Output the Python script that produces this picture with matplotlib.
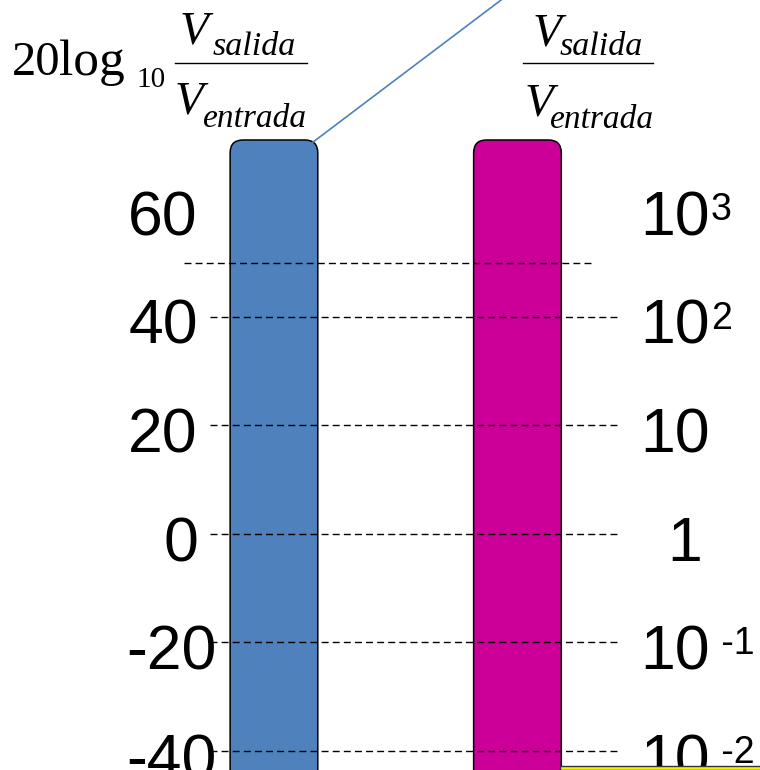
import matplotlib.pyplot as plt
from matplotlib.patches import FancyBboxPatch, Rectangle
from matplotlib.lines import Line2D

# escala en dB (izquierda) y relacion de tensiones (derecha)
niveles_db = [60, 40, 20, 0, -20, -40]
etiquetas_db = ['60', '40', '20', '0', '-20', '-40']
lineas_db = [50, 40, 20, 0, -20, -40]
base_rel = ['10', '10', '10', '1', '10', '10']
exp_rel = ['3', '2', '', '', ' -1', ' -2']

barras_x = [0, 1]
colores = ['#4F81BD', '#CC0099']
tope_barra = 72.6

W, H = 760, 770
fig = plt.figure(figsize=(W / 100, H / 100), dpi=100)
ax = fig.add_axes([0, 0, 1, 1])
ax.set_xlim(-1.125, 1.996)
ax.set_ylim(-43.5, 98.4)
ax.axis('off')

# barras con las esquinas superiores redondeadas
ancho = 0.36
for x, c in zip(barras_x, colores):
    caja = FancyBboxPatch((x - ancho / 2, -80), ancho, tope_barra + 80,
                          boxstyle='round,pad=0,rounding_size=0.053',
                          mutation_aspect=45, fc=c, ec='black', lw=1.1, zorder=2)
    ax.add_patch(caja)

# linea que sale de la barra azul
ax.plot([0.16, 0.98], [72.2, 100.0], color='#4F81BD', lw=1.2, zorder=3)

# lineas punteadas
for i, y in enumerate(lineas_db):
    x0, x1 = -0.263, 1.413
    if i == 0:
        x0, x1 = -0.37, 1.306
    ax.plot([x0, x1], [y, y], color='black', lw=1.0, dashes=(5, 3), zorder=4)

# etiquetas en dB
for v, txt in zip(niveles_db, etiquetas_db):
    xt = -0.234 if v < 0 else -0.312
    ax.annotate(txt, xy=(xt, v), xytext=(0, -19.5), textcoords='offset points',
                ha='right', va='baseline', fontsize=45,
                family='Liberation Sans', zorder=5)

# etiquetas de la relacion
for v, b, e in zip(niveles_db, base_rel, exp_rel):
    if b == '1':
        t = ax.annotate(b, xy=(1.688, v), xytext=(0, -19.5), textcoords='offset points',
                        ha='center', va='baseline', fontsize=45, family='Liberation Sans')
    else:
        t = ax.annotate(b, xy=(1.503, v), xytext=(0, -19.5), textcoords='offset points',
                        ha='left', va='baseline', fontsize=45, family='Liberation Sans')
    if e:
        ax.annotate(e, xy=(1, 1), xycoords=t, xytext=(1, -2), textcoords='offset points',
                    ha='left', va='top', fontsize=27, family='Liberation Sans')


# formulas, armadas por piezas (coordenadas en pixeles de la figura)
def pieza(x, y, s, size, style='normal'):
    fig.text(x / W, 1 - y / H, s, fontsize=size, family='Liberation Serif',
             style=style, ha='left', va='baseline')


def raya(x0, x1, y):
    fig.add_artist(Line2D([x0 / W, x1 / W], [1 - y / H, 1 - y / H],
                          color='black', lw=1.0, transform=fig.transFigure))


pieza(12, 75, '20', 35)
pieza(59, 75, 'log', 37)
pieza(136, 87, '10', 21)
pieza(180, 44, 'V', 34, 'italic')
pieza(213, 55, 'salida', 24.5, 'italic')
raya(175, 307, 63)
pieza(175, 113, 'V', 34, 'italic')
pieza(203, 127, 'entrada', 24, 'italic')

pieza(533, 45, 'V', 34, 'italic')
pieza(560, 55, 'salida', 24.5, 'italic')
raya(523, 653, 63)
pieza(525, 115, 'V', 34, 'italic')
pieza(550, 128, 'entrada', 24, 'italic')

# trozo de la caja amarilla de abajo
ax.add_patch(Rectangle((560 / W, 0), 1, 4.5 / H, transform=ax.transAxes,
                       fc='#F2F200', ec='#333333', lw=1.0, zorder=6, clip_on=False))

fig.savefig('out.png', dpi=100)
